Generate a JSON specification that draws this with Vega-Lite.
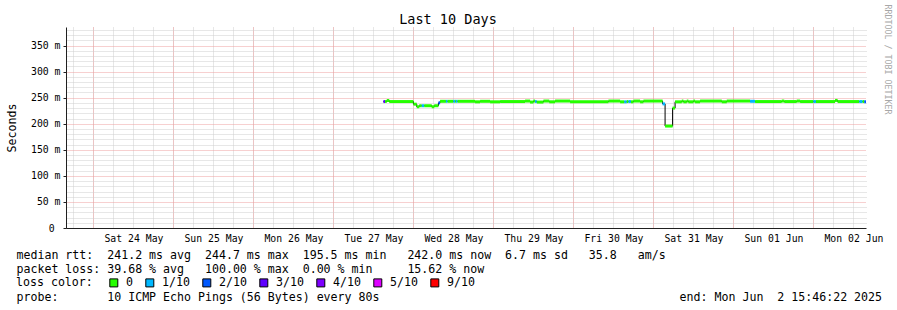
{
  "$schema": "https://vega.github.io/schema/vega-lite/v6.json",
  "autosize": {"type": "none"},
  "padding": {"left": 66, "top": 27, "right": 31, "bottom": 82},
  "width": 800,
  "height": 201,
  "background": "#ffffff",
  "config": {"view": {"stroke": null}, "font": "DejaVu Sans Mono"},
  "title": {"text": "Last 10 Days", "frame": "group", "anchor": "middle", "dx": -18, "baseline": "alphabetic", "offset": -33, "font": "DejaVu Sans Mono", "fontSize": 13.5, "fontWeight": "normal", "color": "#000000"},
  "data": {"values": [
    {"t": "2025-05-27T15:00:00Z", "t2": "2025-05-27T15:30:00Z", "ms": 242.5, "loss": "3/10"},
    {"t": "2025-05-27T15:30:00Z", "t2": "2025-05-27T16:00:00Z", "ms": 242.5, "loss": "0"},
    {"t": "2025-05-27T16:00:00Z", "t2": "2025-05-27T16:45:00Z", "ms": 244.5, "loss": "0"},
    {"t": "2025-05-27T16:45:00Z", "t2": "2025-05-28T00:00:00Z", "ms": 242.5, "loss": "0"},
    {"t": "2025-05-28T00:00:00Z", "t2": "2025-05-28T01:00:00Z", "ms": 237.5, "loss": "0"},
    {"t": "2025-05-28T01:00:00Z", "t2": "2025-05-28T01:45:00Z", "ms": 232.5, "loss": "0"},
    {"t": "2025-05-28T01:45:00Z", "t2": "2025-05-28T02:30:00Z", "ms": 234.5, "loss": "0"},
    {"t": "2025-05-28T02:30:00Z", "t2": "2025-05-28T03:15:00Z", "ms": 234.5, "loss": "1/10"},
    {"t": "2025-05-28T03:15:00Z", "t2": "2025-05-28T05:30:00Z", "ms": 234.5, "loss": "0"},
    {"t": "2025-05-28T05:30:00Z", "t2": "2025-05-28T06:15:00Z", "ms": 232.5, "loss": "0"},
    {"t": "2025-05-28T06:15:00Z", "t2": "2025-05-28T07:30:00Z", "ms": 234.5, "loss": "0"},
    {"t": "2025-05-28T07:30:00Z", "t2": "2025-05-28T08:00:00Z", "ms": 240, "loss": "2/10"},
    {"t": "2025-05-28T08:00:00Z", "t2": "2025-05-28T09:45:00Z", "ms": 243, "loss": "0"},
    {"t": "2025-05-28T09:45:00Z", "t2": "2025-05-28T10:15:00Z", "ms": 243, "loss": "1/10"},
    {"t": "2025-05-28T10:15:00Z", "t2": "2025-05-28T12:00:00Z", "ms": 243, "loss": "0"},
    {"t": "2025-05-28T12:00:00Z", "t2": "2025-05-28T12:30:00Z", "ms": 243, "loss": "1/10"},
    {"t": "2025-05-28T12:30:00Z", "t2": "2025-05-28T12:45:00Z", "ms": 243, "loss": "0"},
    {"t": "2025-05-28T12:45:00Z", "t2": "2025-05-28T13:15:00Z", "ms": 243, "loss": "1/10"},
    {"t": "2025-05-28T13:15:00Z", "t2": "2025-05-28T18:30:00Z", "ms": 243, "loss": "0"},
    {"t": "2025-05-28T18:30:00Z", "t2": "2025-05-28T20:00:00Z", "ms": 242, "loss": "0"},
    {"t": "2025-05-28T20:00:00Z", "t2": "2025-05-28T23:00:00Z", "ms": 243, "loss": "0"},
    {"t": "2025-05-28T23:00:00Z", "t2": "2025-05-29T02:00:00Z", "ms": 242, "loss": "0"},
    {"t": "2025-05-29T02:00:00Z", "t2": "2025-05-29T09:30:00Z", "ms": 242.5, "loss": "0"},
    {"t": "2025-05-29T09:30:00Z", "t2": "2025-05-29T11:00:00Z", "ms": 243.5, "loss": "0"},
    {"t": "2025-05-29T11:00:00Z", "t2": "2025-05-29T12:00:00Z", "ms": 241.5, "loss": "0"},
    {"t": "2025-05-29T12:00:00Z", "t2": "2025-05-29T12:30:00Z", "ms": 243.5, "loss": "0"},
    {"t": "2025-05-29T12:30:00Z", "t2": "2025-05-29T13:00:00Z", "ms": 242.5, "loss": "1/10"},
    {"t": "2025-05-29T13:00:00Z", "t2": "2025-05-29T15:00:00Z", "ms": 241.5, "loss": "0"},
    {"t": "2025-05-29T15:00:00Z", "t2": "2025-05-29T16:45:00Z", "ms": 243.5, "loss": "0"},
    {"t": "2025-05-29T16:45:00Z", "t2": "2025-05-29T18:30:00Z", "ms": 242, "loss": "0"},
    {"t": "2025-05-29T18:30:00Z", "t2": "2025-05-29T23:00:00Z", "ms": 243.5, "loss": "0"},
    {"t": "2025-05-29T23:00:00Z", "t2": "2025-05-30T10:30:00Z", "ms": 242, "loss": "0"},
    {"t": "2025-05-30T10:30:00Z", "t2": "2025-05-30T14:00:00Z", "ms": 243.5, "loss": "0"},
    {"t": "2025-05-30T14:00:00Z", "t2": "2025-05-30T15:15:00Z", "ms": 242, "loss": "0"},
    {"t": "2025-05-30T15:15:00Z", "t2": "2025-05-30T16:00:00Z", "ms": 242, "loss": "1/10"},
    {"t": "2025-05-30T16:00:00Z", "t2": "2025-05-30T16:30:00Z", "ms": 242.5, "loss": "0"},
    {"t": "2025-05-30T16:30:00Z", "t2": "2025-05-30T17:15:00Z", "ms": 242.5, "loss": "1/10"},
    {"t": "2025-05-30T17:15:00Z", "t2": "2025-05-30T18:00:00Z", "ms": 242, "loss": "0"},
    {"t": "2025-05-30T18:00:00Z", "t2": "2025-05-30T20:00:00Z", "ms": 243.5, "loss": "0"},
    {"t": "2025-05-30T20:00:00Z", "t2": "2025-05-30T21:00:00Z", "ms": 242, "loss": "0"},
    {"t": "2025-05-30T21:00:00Z", "t2": "2025-05-31T02:45:00Z", "ms": 243.5, "loss": "0"},
    {"t": "2025-05-31T02:45:00Z", "t2": "2025-05-31T03:30:00Z", "ms": 238, "loss": "1/10"},
    {"t": "2025-05-31T03:30:00Z", "t2": "2025-05-31T05:45:00Z", "ms": 195.5, "loss": "0"},
    {"t": "2025-05-31T05:45:00Z", "t2": "2025-05-31T06:30:00Z", "ms": 230, "loss": "0"},
    {"t": "2025-05-31T06:30:00Z", "t2": "2025-05-31T08:30:00Z", "ms": 242, "loss": "0"},
    {"t": "2025-05-31T08:30:00Z", "t2": "2025-05-31T09:00:00Z", "ms": 243.5, "loss": "0"},
    {"t": "2025-05-31T09:00:00Z", "t2": "2025-05-31T10:00:00Z", "ms": 242, "loss": "0"},
    {"t": "2025-05-31T10:00:00Z", "t2": "2025-05-31T10:30:00Z", "ms": 243.5, "loss": "0"},
    {"t": "2025-05-31T10:30:00Z", "t2": "2025-05-31T12:00:00Z", "ms": 242, "loss": "0"},
    {"t": "2025-05-31T12:00:00Z", "t2": "2025-05-31T12:30:00Z", "ms": 243.5, "loss": "0"},
    {"t": "2025-05-31T12:30:00Z", "t2": "2025-05-31T14:00:00Z", "ms": 242, "loss": "0"},
    {"t": "2025-05-31T14:00:00Z", "t2": "2025-05-31T20:30:00Z", "ms": 243.5, "loss": "0"},
    {"t": "2025-05-31T20:30:00Z", "t2": "2025-05-31T22:00:00Z", "ms": 242, "loss": "0"},
    {"t": "2025-05-31T22:00:00Z", "t2": "2025-06-01T05:00:00Z", "ms": 243.5, "loss": "0"},
    {"t": "2025-06-01T05:00:00Z", "t2": "2025-06-01T06:30:00Z", "ms": 243, "loss": "1/10"},
    {"t": "2025-06-01T06:30:00Z", "t2": "2025-06-01T14:30:00Z", "ms": 242.5, "loss": "0"},
    {"t": "2025-06-01T14:30:00Z", "t2": "2025-06-01T15:15:00Z", "ms": 243.5, "loss": "0"},
    {"t": "2025-06-01T15:15:00Z", "t2": "2025-06-01T19:00:00Z", "ms": 242.5, "loss": "0"},
    {"t": "2025-06-01T19:00:00Z", "t2": "2025-06-01T20:00:00Z", "ms": 243.5, "loss": "0"},
    {"t": "2025-06-01T20:00:00Z", "t2": "2025-06-02T00:00:00Z", "ms": 242.5, "loss": "0"},
    {"t": "2025-06-02T00:00:00Z", "t2": "2025-06-02T00:45:00Z", "ms": 242.5, "loss": "1/10"},
    {"t": "2025-06-02T00:45:00Z", "t2": "2025-06-02T06:30:00Z", "ms": 242.5, "loss": "0"},
    {"t": "2025-06-02T06:30:00Z", "t2": "2025-06-02T07:15:00Z", "ms": 244.7, "loss": "0"},
    {"t": "2025-06-02T07:15:00Z", "t2": "2025-06-02T13:45:00Z", "ms": 242.5, "loss": "0"},
    {"t": "2025-06-02T13:45:00Z", "t2": "2025-06-02T14:45:00Z", "ms": 242.5, "loss": "1/10"},
    {"t": "2025-06-02T14:45:00Z", "t2": "2025-06-02T15:15:00Z", "ms": 242.5, "loss": "0"},
    {"t": "2025-06-02T15:15:00Z", "t2": "2025-06-02T15:46:22Z", "ms": 242, "loss": "2/10"}
  ]},
  "resolve": {"axis": {"x": "independent", "y": "independent"}, "scale": {"color": "independent"}, "legend": {"color": "independent"}},
  "layer": [
    {
      "mark": {"type": "line", "interpolate": "step-after", "strokeWidth": 1, "color": "#000000"},
      "encoding": {
        "x": {"field": "t", "type": "temporal",
          "scale": {"type": "utc", "domain": [{"year": 2025, "month": 5, "date": 23, "hours": 15, "minutes": 46, "seconds": 22, "utc": true}, {"year": 2025, "month": 6, "date": 2, "hours": 15, "minutes": 46, "seconds": 22, "utc": true}]},
          "axis": {"orient": "bottom", "tickCount": 40, "grid": true, "gridColor": "#cfcfcf", "gridDash": [1, 1], "labels": false, "ticks": false, "tickSize": 0, "domain": false,
            "title": "probe:\u00a0\u00a0\u00a0\u00a0\u00a0\u00a0\u00a010 ICMP Echo Pings (56 Bytes) every 80s\u00a0\u00a0\u00a0\u00a0\u00a0\u00a0\u00a0\u00a0\u00a0\u00a0\u00a0\u00a0\u00a0\u00a0\u00a0\u00a0\u00a0\u00a0\u00a0\u00a0\u00a0\u00a0\u00a0\u00a0\u00a0\u00a0\u00a0\u00a0\u00a0\u00a0\u00a0\u00a0\u00a0\u00a0\u00a0\u00a0\u00a0\u00a0\u00a0\u00a0\u00a0\u00a0\u00a0end: Mon Jun\u00a0\u00a02 15:46:22 2025",
            "titleX": -50, "titleY": 72.5, "titleAlign": "left", "titleBaseline": "alphabetic", "titleFont": "DejaVu Sans Mono", "titleFontSize": 11.6, "titleFontWeight": "normal", "titleColor": "#000000"}},
        "y": {"field": "ms", "type": "quantitative",
          "scale": {"domain": [0, 385.5], "nice": false, "zero": true},
          "axis": {"orient": "right", "values": [10, 20, 30, 40, 60, 70, 80, 90, 110, 120, 130, 140, 160, 170, 180, 190, 210, 220, 230, 240, 260, 270, 280, 290, 310, 320, 330, 340, 360, 370, 380], "grid": true, "gridColor": "#cfcfcf", "gridDash": [1, 1], "labels": false, "ticks": false, "tickSize": 0, "domain": false,
            "title": "RRDTOOL / TOBI OETIKER", "titleX": 20, "titleY": 32, "titleAngle": 90, "titleAlign": "center", "titleBaseline": "middle", "titleFont": "DejaVu Sans Mono", "titleFontSize": 8.3, "titleFontWeight": "normal", "titleColor": "#a8a8a8"}}
      }
    },
    {
      "mark": {"type": "rule", "strokeWidth": 3, "strokeCap": "butt"},
      "encoding": {
        "x": {"field": "t", "type": "temporal",
          "scale": {"type": "utc", "domain": [{"year": 2025, "month": 5, "date": 23, "hours": 15, "minutes": 46, "seconds": 22, "utc": true}, {"year": 2025, "month": 6, "date": 2, "hours": 15, "minutes": 46, "seconds": 22, "utc": true}]},
          "axis": {"orient": "bottom", "tickCount": 10, "grid": true, "gridColor": "#eea0a0", "gridDash": [1, 1], "domain": true, "domainColor": "#202020", "ticks": false, "tickSize": 0,
            "labelExpr": "utcFormat(datum.value, '%a %d %b')", "labelOffset": 40, "labelPadding": 5, "labelFont": "DejaVu Sans Mono", "labelFontSize": 9.8, "labelColor": "#000000", "labelFlush": false, "labelOverlap": false, "labelBound": false,
            "title": ["median rtt:\u00a0\u00a0241.2 ms avg\u00a0\u00a0244.7 ms max\u00a0\u00a0195.5 ms min\u00a0\u00a0\u00a0242.0 ms now\u00a0\u00a06.7 ms sd\u00a0\u00a0\u00a035.8\u00a0\u00a0\u00a0am/s", "packet loss: 39.68 % avg\u00a0\u00a0\u00a0100.00 % max\u00a0\u00a00.00 % min\u00a0\u00a0\u00a0\u00a0\u00a015.62 % now"],
            "titleX": -50, "titleY": 30, "titleAlign": "left", "titleBaseline": "alphabetic", "titleLineHeight": 14, "titleFont": "DejaVu Sans Mono", "titleFontSize": 11.6, "titleFontWeight": "normal", "titleColor": "#000000"}},
        "x2": {"field": "t2"},
        "y": {"field": "ms", "type": "quantitative",
          "scale": {"domain": [0, 385.5], "nice": false, "zero": true},
          "axis": {"orient": "left", "values": [0, 50, 100, 150, 200, 250, 300, 350], "grid": true, "gridColor": "#eea0a0", "gridDash": [1, 1], "domain": true, "domainColor": "#202020", "ticks": true, "tickSize": 3, "tickColor": "#202020",
            "labelPadding": {"condition": {"test": "datum.value == 0", "value": 8.9}, "value": 3},
            "labelExpr": "datum.value == 0 ? '0' : datum.value + ' m'", "labelFont": "DejaVu Sans Mono", "labelFontSize": 9.8, "labelColor": "#000000",
            "title": "Seconds", "titleX": -51, "titleY": 100.5, "titleAngle": 270, "titleAlign": "center", "titleBaseline": "alphabetic", "titleFont": "DejaVu Sans Mono", "titleFontSize": 11.6, "titleFontWeight": "normal", "titleColor": "#000000"}},
        "color": {"field": "loss", "type": "nominal",
          "scale": {"domain": ["0", "1/10", "2/10", "3/10", "4/10", "5/10", "9/10"], "range": ["#26ff00", "#00b8ff", "#0059ff", "#5e00ff", "#7e00ff", "#dd00ff", "#ff0000"]},
          "legend": null}
      }
    },
    {
      "transform": [{"filter": "false"}],
      "mark": {"type": "square", "filled": true},
      "encoding": {
        "x": {"field": "t", "type": "temporal",
          "scale": {"type": "utc", "domain": [{"year": 2025, "month": 5, "date": 23, "hours": 15, "minutes": 46, "seconds": 22, "utc": true}, {"year": 2025, "month": 6, "date": 2, "hours": 15, "minutes": 46, "seconds": 22, "utc": true}]},
          "axis": null},
        "y": {"field": "ms", "type": "quantitative",
          "scale": {"domain": [0, 385.5], "nice": false, "zero": true},
          "axis": null},
        "color": {"field": "loss", "type": "nominal",
          "scale": {"domain": ["0", "1/10", "2/10", "3/10", "4/10", "5/10", "9/10"], "range": ["#26ff00", "#00b8ff", "#0059ff", "#5e00ff", "#7e00ff", "#dd00ff", "#ff0000"]},
          "legend": {"orient": "none", "direction": "horizontal", "legendX": -50, "legendY": 250, "padding": 0,
            "title": "loss color:", "titleOrient": "left", "titlePadding": 15, "titleFont": "DejaVu Sans Mono", "titleFontSize": 11.6, "titleFontWeight": "normal", "titleColor": "#000000",
            "symbolType": "square", "symbolSize": 64, "symbolStrokeWidth": 1, "symbolStrokeColor": "#000000", "symbolOpacity": 1,
            "labelFont": "DejaVu Sans Mono", "labelFontSize": 11.6, "labelColor": "#000000", "labelOffset": 6.5, "columnPadding": 9}}
      }
    }
  ]
}
